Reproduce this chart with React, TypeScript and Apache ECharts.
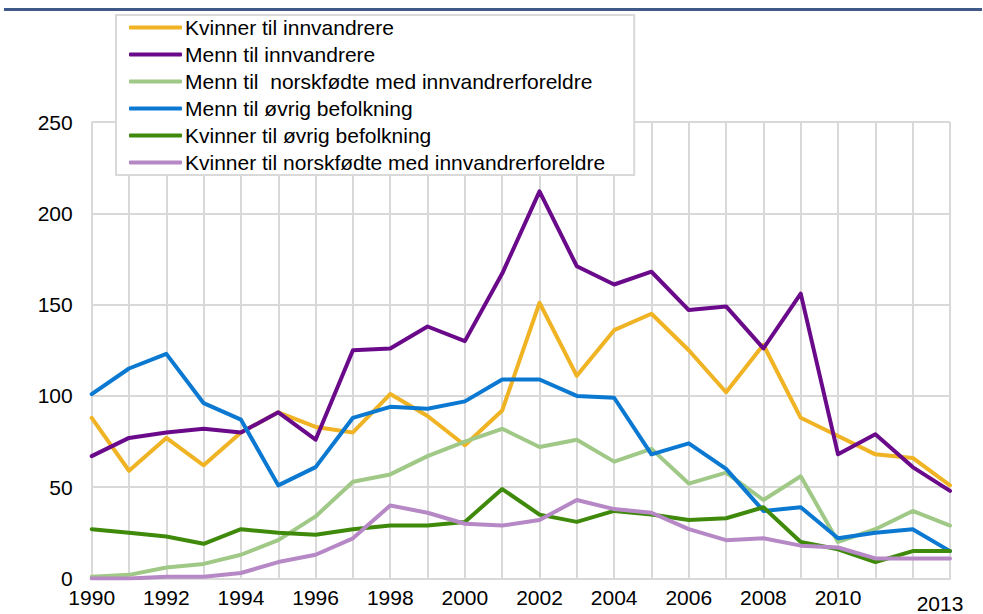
import React, { useEffect, useRef } from "react";
import * as echarts from "echarts";

const years = [
  "1990", "1991", "1992", "1993", "1994", "1995", "1996", "1997", "1998", "1999", "2000", "2001",
  "2002", "2003", "2004", "2005", "2006", "2007", "2008", "2009", "2010", "2011", "2012", "2013",
];

const seriesNames = [
  "Kvinner til innvandrere",
  "Menn til innvandrere",
  "Menn til  norskfødte med innvandrerforeldre",
  "Menn til øvrig befolkning",
  "Kvinner til øvrig befolkning",
  "Kvinner til norskfødte med innvandrerforeldre",
];

const kvinnerInnvandrere = [88, 59, 77, 62, 80, 91, 83, 80, 101, 89, 73, 92, 151, 111, 136, 145, 125, 102, 128, 88, 78, 68, 66, 51];
const mennInnvandrere = [67, 77, 80, 82, 80, 91, 76, 125, 126, 138, 130, 167, 212, 171, 161, 168, 147, 149, 126, 156, 68, 79, 61, 48];
const mennNorskfodte = [1, 2, 6, 8, 13, 21, 34, 53, 57, 67, 75, 82, 72, 76, 64, 71, 52, 58, 43, 56, 20, 27, 37, 29];
const mennOvrig = [101, 115, 123, 96, 87, 51, 61, 88, 94, 93, 97, 109, 109, 100, 99, 68, 74, 60, 37, 39, 22, 25, 27, 15];
const kvinnerOvrig = [27, 25, 23, 19, 27, 25, 24, 27, 29, 29, 31, 49, 35, 31, 37, 35, 32, 33, 39, 20, 16, 9, 15, 15];
const kvinnerNorskfodte = [0, 0, 1, 1, 3, 9, 13, 22, 40, 36, 30, 29, 32, 43, 38, 36, 27, 21, 22, 18, 17, 11, 11, 11];

const seriesData = [kvinnerInnvandrere, mennInnvandrere, mennNorskfodte, mennOvrig, kvinnerOvrig, kvinnerNorskfodte];
const colors = ["#EFB324", "#6A0A8A", "#A0C886", "#0B79D1", "#3F8A0A", "#B688C6"];

const yTicks = { min: 0, max: 250, interval: 50 };
const shownLabels = ["1990", "1992", "1994", "1996", "1998", "2000", "2002", "2004", "2006", "2008", "2010", "2013"];

const FONT = "'Liberation Sans', Arial, sans-serif";

export default function App() {
  const ref = useRef<HTMLDivElement>(null);

  useEffect(() => {
    if (!ref.current) return;
    const chart = echarts.init(ref.current, undefined, { renderer: "svg" });
    chart.setOption({
      animation: false,
      textStyle: { fontFamily: FONT },
      color: colors,
      graphic: [
        {
          type: "line",
          shape: { x1: 4, y1: 9.5, x2: 982, y2: 9.5 },
          style: { stroke: "#3F5A8A", lineWidth: 3 },
          z: 10,
        },
      ],
      grid: { left: 91.7, right: 33, top: 122, bottom: 35.5, containLabel: false },
      legend: {
        orient: "vertical",
        left: 116,
        top: 15,
        padding: [2, 29, 2, 13],
        itemGap: 6,
        itemWidth: 53,
        itemHeight: 4,
        icon: "roundRect",
        backgroundColor: "#ffffff",
        borderColor: "#D9D9D9",
        borderWidth: 2,
        textStyle: { fontSize: 21, color: "#000", fontFamily: FONT, lineHeight: 21, padding: [0, 0, 0, -2] },
        data: seriesNames,
        z: 20,
      },
      xAxis: {
        type: "category",
        data: years,
        boundaryGap: false,
        axisLine: { show: true, lineStyle: { color: "#D9D9D9", width: 2 } },
        axisTick: { show: false },
        axisLabel: {
          interval: (_i: number, v: string) => shownLabels.indexOf(v) >= 0,
          fontSize: 21,
          color: "#000",
          fontFamily: FONT,
          margin: 8,
          formatter: (v: string) => (v === "2013" ? "{b|2013}" : v),
          rich: { b: { fontSize: 21, color: "#000", fontFamily: FONT, padding: [6, 20, 0, 0] } },
        },
        splitLine: { show: true, interval: 0, lineStyle: { color: "#D9D9D9", width: 2 } },
      },
      yAxis: {
        type: "value",
        min: yTicks.min,
        max: yTicks.max,
        interval: yTicks.interval,
        axisLine: { show: false },
        axisTick: { show: false },
        axisLabel: { fontSize: 21, color: "#000", fontFamily: FONT, margin: 19 },
        splitLine: { show: true, lineStyle: { color: "#D9D9D9", width: 2 } },
      },
      series: seriesNames.map((name, i) => ({
        name,
        type: "line",
        data: seriesData[i],
        symbol: "none",
        lineStyle: { width: 4, color: colors[i], cap: "round", join: "round" },
        itemStyle: { color: colors[i] },
      })),
    });
    return () => chart.dispose();
  }, []);

  return (
    <div
      ref={ref}
      style={{ position: "absolute", left: 0, top: 0, width: 983, height: 614, background: "#fff" }}
    />
  );
}
